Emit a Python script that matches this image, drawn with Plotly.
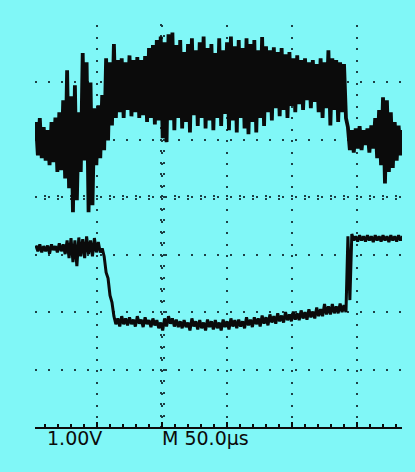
import numpy as np
import plotly.graph_objects as go

# Sampling grid (microseconds), one sample every 3 us
time_us = np.arange(3, 286, 3)

# Channel 1 (top trace): upper / lower excursions of the noisy signal, volts
ch1_high = [1.31, 1.38, 1.22, 1.17, 1.31, 1.39, 1.48, 1.69, 2.21, 1.76,
            1.95, 1.48, 2.51, 2.35, 2.00, 1.55, 1.60, 1.78, 2.42, 2.35,
            2.67, 2.39, 2.42, 2.35, 2.47, 2.39, 2.44, 2.39, 2.46, 2.60,
            2.65, 2.74, 2.80, 2.70, 2.84, 2.87, 2.65, 2.74, 2.53, 2.67,
            2.77, 2.56, 2.70, 2.80, 2.60, 2.67, 2.51, 2.77, 2.56, 2.70,
            2.80, 2.63, 2.74, 2.60, 2.77, 2.67, 2.74, 2.56, 2.79, 2.63,
            2.56, 2.61, 2.53, 2.60, 2.49, 2.53, 2.42, 2.47, 2.39, 2.42,
            2.35, 2.39, 2.32, 2.42, 2.35, 2.56, 2.42, 2.39, 2.35, 2.32,
            1.22, 1.17, 1.20, 1.24, 1.17, 1.20, 1.25, 1.38, 1.52, 1.74,
            1.69, 1.48, 1.31, 1.25, 1.17]
ch1_low = [0.73, 0.68, 0.64, 0.56, 0.61, 0.44, 0.47, 0.33, 0.16, -0.26,
           -0.05, 0.44, 0.64, -0.26, -0.14, 0.56, 0.68, 0.82, 0.99, 1.25,
           1.38, 1.48, 1.38, 1.52, 1.41, 1.48, 1.38, 1.43, 1.31, 1.38,
           1.27, 1.34, 1.03, 0.96, 1.34, 1.17, 1.38, 1.20, 1.31, 1.13,
           1.43, 1.24, 1.38, 1.20, 1.34, 1.17, 1.38, 1.24, 1.45, 1.17,
           1.34, 1.13, 1.38, 1.20, 1.10, 1.31, 1.13, 1.38, 1.24, 1.48,
           1.34, 1.55, 1.41, 1.52, 1.38, 1.59, 1.48, 1.62, 1.52, 1.69,
           1.55, 1.66, 1.48, 1.38, 1.55, 1.25, 1.52, 1.31, 1.48, 1.38,
           0.82, 0.78, 0.85, 0.82, 0.91, 0.78, 0.85, 0.68, 0.56, 0.24,
           0.44, 0.51, 0.64, 0.73, 0.82]

# Channel 2 (bottom trace): upper / lower excursions, volts
ch2_high = [-0.84, -0.82, -0.85, -0.84, -0.82, -0.85, -0.80, -0.82, -0.75, -0.71,
            -0.75, -0.70, -0.73, -0.68, -0.75, -0.71, -0.78, -0.89, -1.31, -1.71,
            -2.07, -2.11, -2.07, -2.11, -2.09, -2.13, -2.07, -2.13, -2.09, -2.14,
            -2.11, -2.14, -2.18, -2.11, -2.07, -2.11, -2.13, -2.16, -2.14, -2.18,
            -2.11, -2.16, -2.14, -2.18, -2.13, -2.16, -2.14, -2.18, -2.13, -2.16,
            -2.11, -2.14, -2.13, -2.16, -2.09, -2.13, -2.09, -2.11, -2.06, -2.09,
            -2.04, -2.07, -2.02, -2.06, -2.00, -2.04, -1.99, -2.02, -1.97, -2.00,
            -1.95, -1.99, -1.92, -1.95, -1.86, -1.90, -1.86, -1.90, -1.85, -1.88,
            -0.68, -0.64, -0.68, -0.66, -0.68, -0.66, -0.68, -0.66, -0.68, -0.66,
            -0.68, -0.66, -0.68, -0.66, -0.68]
ch2_low = [-0.94, -0.96, -0.94, -0.98, -0.92, -0.96, -0.94, -0.99, -1.06, -1.13,
           -1.20, -1.03, -1.06, -0.99, -1.03, -0.96, -0.96, -1.03, -1.41, -1.83,
           -2.21, -2.25, -2.21, -2.23, -2.21, -2.25, -2.20, -2.26, -2.21, -2.26,
           -2.23, -2.28, -2.32, -2.25, -2.20, -2.25, -2.26, -2.28, -2.26, -2.32,
           -2.25, -2.30, -2.28, -2.32, -2.26, -2.30, -2.28, -2.32, -2.26, -2.30,
           -2.25, -2.28, -2.25, -2.28, -2.23, -2.26, -2.21, -2.25, -2.20, -2.23,
           -2.18, -2.20, -2.16, -2.18, -2.14, -2.16, -2.13, -2.14, -2.11, -2.13,
           -2.09, -2.11, -2.07, -2.07, -2.04, -2.04, -2.02, -2.02, -2.00, -2.00,
           -1.79, -0.75, -0.77, -0.75, -0.77, -0.75, -0.78, -0.75, -0.77, -0.75,
           -0.78, -0.75, -0.77, -0.75, -0.77]

volts_label = "1.00V"
time_label = "M 50.0µs"

BG = "#80f7f7"
INK = "#0b0b0b"
GRID = "#1d3f44"


def zigzag(t, hi, lo):
    xs, ys = [], []
    half = (t[1] - t[0]) / 2.0
    for ti, h, l in zip(t, hi, lo):
        xs += [ti, ti + half]
        ys += [h, l]
    return xs, ys


fig = go.Figure()
x1, y1 = zigzag(time_us, ch1_high, ch1_low)
fig.add_trace(go.Scatter(x=x1, y=y1, mode="lines",
                         line=dict(color=INK, width=3.8), hoverinfo="skip"))
x2, y2 = zigzag(time_us, ch2_high, ch2_low)
fig.add_trace(go.Scatter(x=x2, y=y2, mode="lines",
                         line=dict(color=INK, width=3.0), hoverinfo="skip"))

# dummy traces so the centre-tick axes render
for xa, ya in [("x2", "y"), ("x3", "y"), ("x", "y2"), ("x", "y3")]:
    fig.add_trace(go.Scatter(x=[0], y=[-10], mode="lines", xaxis=xa, yaxis=ya,
                             hoverinfo="skip", showlegend=False))

XR = [2.3, 284.6]
YR = [-4.0, 3.0]
xc = (100 - XR[0]) / (XR[1] - XR[0])
yc = (0 - YR[0]) / (YR[1] - YR[0])

center_tick = dict(range=XR, showgrid=False, zeroline=False, showticklabels=False,
                   tick0=0, dtick=10, ticklen=2, tickwidth=2, tickcolor=GRID,
                   showline=False, overlaying="x", anchor="free", position=yc,
                   layer="below traces")
center_tick_y = dict(range=YR, showgrid=False, zeroline=False, showticklabels=False,
                     tick0=0, dtick=0.2, ticklen=2, tickwidth=2, tickcolor=GRID,
                     showline=False, overlaying="y", anchor="free", position=xc,
                     layer="below traces")

fig.update_layout(
    width=415, height=472,
    margin=dict(l=35, r=13, t=25, b=45),
    paper_bgcolor=BG, plot_bgcolor=BG,
    showlegend=False,
    xaxis=dict(range=XR, showgrid=True, gridcolor=GRID, gridwidth=2,
               griddash="2px,9.5px", tick0=0, dtick=50, zeroline=False,
               showticklabels=False, showline=True, linecolor=INK, linewidth=2,
               ticks="inside", ticklen=5, tickwidth=1.5, tickcolor=INK,
               minor=dict(dtick=10, ticks="inside", ticklen=3, tickwidth=1.5,
                          tickcolor=INK, showgrid=False)),
    yaxis=dict(range=YR, showgrid=True, gridcolor=GRID, gridwidth=2,
               griddash="2px,11px", tick0=0, dtick=1, zeroline=False,
               showticklabels=False, showline=False, ticks=""),
    xaxis2=dict(center_tick, ticks="outside"),
    xaxis3=dict(center_tick, ticks="inside"),
    yaxis2=dict(center_tick_y, ticks="outside"),
    yaxis3=dict(center_tick_y, ticks="inside"),
    annotations=[
        dict(text=volts_label, x=10, xref="x", y=-0.027, yref="paper",
             xanchor="left", yanchor="middle", showarrow=False,
             font=dict(family="DejaVu Sans", size=19, color=INK)),
        dict(text=time_label, x=98.5, xref="x", y=-0.027, yref="paper",
             xanchor="left", yanchor="middle", showarrow=False,
             font=dict(family="DejaVu Sans", size=19, color=INK)),
    ],
)

fig.write_html(
    "out.html",
    config={"displayModeBar": False, "staticPlot": True},
    post_script="document.body.style.margin='0';"
                "document.body.style.background='" + BG + "';",
)
